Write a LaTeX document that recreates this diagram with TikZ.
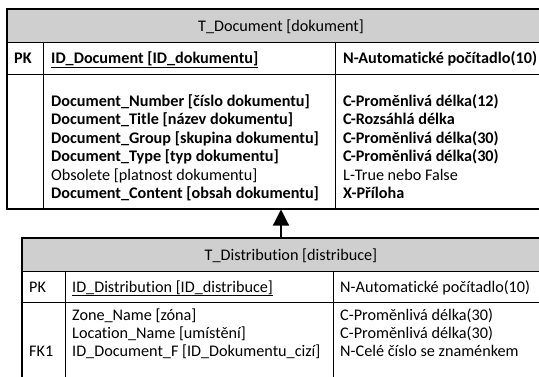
\documentclass[tikz,border=0pt]{standalone}
\usepackage{fontspec}
\setmainfont{Carlito}[Ligatures={NoCommon}]
\usetikzlibrary{arrows.meta}
\begin{document}
\begin{tikzpicture}[x=1pt,y=-1pt,
  border/.style={draw=black,line width=1.2pt},
  grid/.style={draw=black,line width=0.9pt},
  title/.style={fill=black!19},
  txt/.style={anchor=base west,inner sep=0pt,font=\fontsize{16.2}{19}\selectfont},
  ttl/.style={anchor=base,inner sep=0pt,font=\fontsize{16.2}{19}\selectfont},
  bld/.style={txt,font=\fontsize{16.2}{19}\selectfont\bfseries}]
\useasboundingbox (0,0) rectangle (539,376);
\clip (0,0) rectangle (539,376);
\fill[white] (0,0) rectangle (539,376);
% ---------- T_Document ----------
\fill[title] (7,9) rectangle (580,42);
\draw[border] (580,9) -- (7,9) -- (7,209) -- (580,209);
\draw[grid] (7,42) -- (580,42);
\draw[grid] (7,74) -- (580,74);
\draw[grid] (43,42) -- (43,209);
\draw[grid] (335,42) -- (335,209);
\node[ttl] (dtitle) at (281,31) {T\_Document [dokument]};
\node[bld] (dpk) at (14,63) {PK};
\node[bld] (did) at (51,63) {\underline{ID\_Document [ID\_dokumentu]}};
\node[bld] (didt) at (343,63) {N-Automatické počítadlo(10)};
\node[bld] (d1) at (51,106) {Document\_Number [číslo dokumentu]};
\node[bld] (d2) at (51,124.5) {Document\_Title [název dokumentu]};
\node[bld] (d3) at (51,143) {Document\_Group [skupina dokumentu]};
\node[bld] (d4) at (51,161.5) {Document\_Type [typ dokumentu]};
\node[txt] (d5) at (51,180) {Obsolete [platnost dokumentu]};
\node[bld] (d6) at (51,198.5) {Document\_Content [obsah dokumentu]};
\node[bld] (t1) at (343,106) {C-Proměnlivá délka(12)};
\node[bld] (t2) at (343,124.5) {C-Rozsáhlá délka};
\node[bld] (t3) at (343,143) {C-Proměnlivá délka(30)};
\node[bld] (t4) at (343,161.5) {C-Proměnlivá délka(30)};
\node[txt] (t5) at (343,180) {L-True nebo False};
\node[bld] (t6) at (343,198.5) {X-Příloha};
\coordinate (docbot) at (281,209.5);
% ---------- T_Distribution ----------
\fill[title] (22,238) rectangle (580,271);
\draw[border] (580,238) -- (22,238) -- (22,390);
\draw[grid] (22,271) -- (580,271);
\draw[grid] (22,302) -- (580,302);
\draw[grid] (65,271) -- (65,390);
\draw[grid] (333,271) -- (333,390);
\node[ttl] (stitle) at (291,260) {T\_Distribution [distribuce]};
\node[txt] (spk) at (29,292) {PK};
\node[txt] (sid) at (72,292) {\underline{ID\_Distribution [ID\_distribuce]}};
\node[txt] (sidt) at (340,292) {N-Automatické počítadlo(10)};
\node[txt] (s1) at (72,320) {Zone\_Name [zóna]};
\node[txt] (s2) at (72,338) {Location\_Name [umístění]};
\node[txt] (s3) at (72,356) {ID\_Document\_F [ID\_Dokumentu\_cizí]};
\node[txt] (sfk) at (29,356) {FK1};
\node[txt] (u1) at (340,320) {C-Proměnlivá délka(30)};
\node[txt] (u2) at (340,338) {C-Proměnlivá délka(30)};
\node[txt] (u3) at (340,356) {N-Celé číslo se znaménkem};
\coordinate (distop) at (281,238);
% ---------- connector ----------
\draw[line width=1.2pt,-{Triangle[width=16pt,length=16pt]}] (distop) -- (docbot);
\end{tikzpicture}
\end{document}
